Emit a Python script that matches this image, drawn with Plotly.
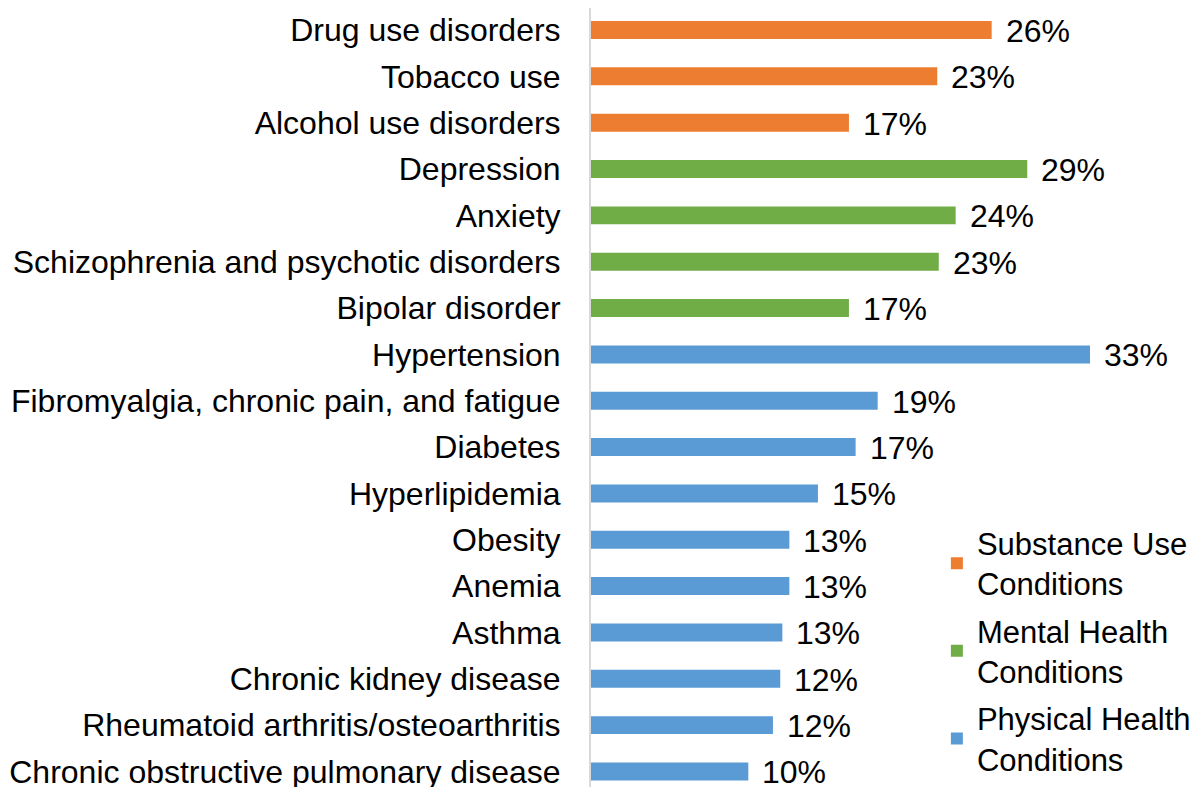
import plotly.graph_objects as go

categories = [
    "Drug use disorders", "Tobacco use", "Alcohol use disorders",
    "Depression", "Anxiety", "Schizophrenia and psychotic disorders", "Bipolar disorder",
    "Hypertension", "Fibromyalgia, chronic pain, and fatigue", "Diabetes", "Hyperlipidemia",
    "Obesity", "Anemia", "Asthma", "Chronic kidney disease",
    "Rheumatoid arthritis/osteoarthritis", "Chronic obstructive pulmonary disease",
]
values = [26.36, 22.78, 16.97,
          28.70, 23.99, 22.88, 16.97,
          32.83, 18.86, 17.41, 14.93, 13.05, 13.05, 12.59, 12.45, 11.97, 10.35]
groups = ["Substance Use<br>Conditions"] * 3 + ["Mental Health<br>Conditions"] * 4 + ["Physical Health<br>Conditions"] * 10
group_names = ["Substance Use<br>Conditions", "Mental Health<br>Conditions", "Physical Health<br>Conditions"]
group_colors = ["#ED7D31", "#70AD47", "#5B9BD5"]

FONT = "Liberation Sans, Arial, sans-serif"
FS = 32

fig = go.Figure()
for i, (name, color) in enumerate(zip(group_names, group_colors)):
    ys = [c for c, g in zip(categories, groups) if g == name]
    xs = [v for v, g in zip(values, groups) if g == name]
    fig.add_trace(go.Bar(x=xs, y=ys, orientation="h", name=name,
                         legendgroup=f"g{i}",
                         marker=dict(color=color, line=dict(width=0)),
                         hoverinfo="x+y"))

for c, v in zip(categories, values):
    fig.add_annotation(x=v, y=c, text=f"{round(v)}%", showarrow=False,
                       xanchor="left", xshift=12, yshift=-1,
                       font=dict(family=FONT, size=FS, color="#000000"))

fig.update_layout(
    width=1200, height=787,
    margin=dict(l=583, r=0, t=0, b=0, pad=0, autoexpand=False),
    paper_bgcolor="white", plot_bgcolor="white",
    barmode="overlay", bargap=0.612,
    font=dict(family=FONT, size=FS, color="#000000"),
    legend=dict(x=0.5606, xanchor="left", y=0.354, yanchor="top",
                font=dict(family=FONT, size=31, color="#000000"),
                bgcolor="rgba(0,0,0,0)", tracegroupgap=4, itemwidth=30),
    showlegend=True,
)
fig.update_xaxes(range=[0, 617 / 15.2], visible=False, showgrid=False, zeroline=False,
                 automargin=False)
fig.update_yaxes(type="category", categoryorder="array", categoryarray=categories,
                 range=[16.508, -0.475], showgrid=False, zeroline=False, automargin=False,
                 showline=True, linecolor="#D9D9D9", linewidth=2,
                 ticks="", ticklabelstandoff=22,
                 tickfont=dict(family=FONT, size=FS, color="#000000"))

fig.write_html("out.html")
